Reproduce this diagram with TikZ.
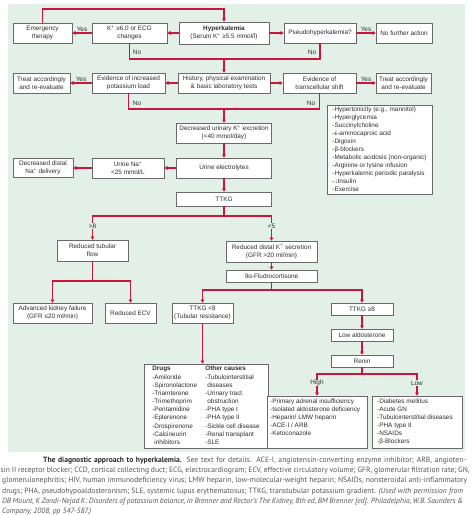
\documentclass[tikz,border=0pt]{standalone}
\usepackage{fontspec}
\setmainfont{Liberation Sans}
\newfontfamily\capfont{PT Sans}
\usetikzlibrary{arrows.meta}
\definecolor{bgg}{RGB}{226,240,232}
\definecolor{redl}{RGB}{200,22,62}
\definecolor{boxd}{RGB}{105,105,105}
\definecolor{txt}{RGB}{45,45,45}
\definecolor{captxt}{RGB}{85,85,85}
\definecolor{capbold}{RGB}{40,40,40}
\begin{document}
\begin{tikzpicture}[x=1pt,y=-1pt,
 box/.style={draw=boxd, line width=0.6pt, fill=white, text=txt, font=\fontsize{6.4}{8}\selectfont, align=center, inner sep=1pt, minimum height=20pt},
 conn/.style={draw=redl, line width=1.1pt},
 arr/.style={conn, -{Triangle[length=3.2pt,width=3.8pt]}},
 lab/.style={text=txt, font=\fontsize{6.4}{8}\selectfont, inner sep=0.5pt},
 onlab/.style={lab, fill=bgg},
 listtxt/.style={text=txt, font=\fontsize{6.4}{8}\selectfont, align=left, inner sep=0pt},
 captext/.style={anchor=base west, inner sep=0pt, text=captxt, font=\capfont\fontsize{7.6}{10}\selectfont}
]
\useasboundingbox (0,0) rectangle (474,515);
\fill[white] (0,0) rectangle (474,515);
\fill[bgg] (8,4) rectangle (465,452);

% row 1
\node[box, minimum width=59pt] (emerg) at (42.5,33) {Emergency\\therapy};
\node[box, minimum width=75pt] (kchk) at (129.5,33) {K\textsuperscript{+} ≥6.0 or ECG\\changes};
\node[box, minimum width=90pt, minimum height=22pt] (hyper) at (224,33) {\textbf{Hyperkalemia}\\(Serum K\textsuperscript{+} ≥5.5 mmol/l)};
\node[box, minimum width=72pt] (pseudo) at (320,33) {Pseudohyperkalemia?};
\node[box, minimum width=56pt] (nofa) at (404,33) {No further action};
% row 2
\node[box, minimum width=57pt] (treatL) at (41.5,83) {Treat accordingly\\and re-evaluate};
\node[box, minimum width=73pt] (evinc) at (128.5,83) {Evidence of increased\\potassium load};
\node[box, minimum width=92pt] (hist) at (224,83) {History, physical examination\\\& basic laboratory tests};
\node[box, minimum width=73pt] (trans) at (319.5,83) {Evidence of\\transcellular shift};
\node[box, minimum width=55pt] (treatR) at (403.5,83) {Treat accordingly\\and re-evaluate};
% list of transcellular causes
\node[box, minimum width=105pt, minimum height=89pt, align=left] (shiftlist) at (379.5,149.5) {-Hypertonicity (e.g., mannitol)\\-Hyperglycemia\\-Succinylcholine\\-ε-aminocaproic acid\\-Digoxin\\-β-blockers\\-Metabolic acidosis (non-organic)\\-Arginine or lysine infusion\\-Hyperkalemic periodic paralysis\\-↓Insulin\\-Exercise};
% middle column
\node[box, minimum width=95pt] (decu) at (224,133) {Decreased urinary K\textsuperscript{+} excretion\\(<40 mmol/day)};
\node[box, minimum width=95pt] (uel) at (224,168) {Urine electrolytes};
\node[box, minimum width=72pt] (una) at (128,168) {Urine Na\textsuperscript{+}\\<25 mmol/L};
\node[box, minimum width=60pt, minimum height=19pt] (ddist) at (43,168) {Decreased distal\\Na\textsuperscript{+} delivery};
\node[box, minimum width=95pt, minimum height=14pt] (ttkg) at (224,199) {TTKG};
\node[box, minimum width=71pt, minimum height=21pt] (rtub) at (92.5,250.5) {Reduced tubular\\flow};
\node[box, minimum width=91pt, minimum height=21pt] (rdist) at (271.5,251.5) {Reduced distal K\textsuperscript{+} secretion\\(GFR >20 ml/min)};
\node[box, minimum width=91pt, minimum height=12pt] (fludro) at (271.5,276) {9α-Fludrocortisone};
\node[box, minimum width=79pt] (akf) at (52.5,313) {Advanced kidney failure\\(GFR ≤20 ml/min)};
\node[box, minimum width=51pt] (recv) at (130.5,313) {Reduced ECV};
\node[box, minimum width=61pt] (tlow) at (202.5,313) {TTKG <8\\(Tubular resistance)};
\node[box, minimum width=62pt, minimum height=12pt] (thigh) at (362,309) {TTKG ≥8};
\node[box, minimum width=62pt, minimum height=12pt] (laldo) at (362,335) {Low aldosterone};
\node[box, minimum width=62pt, minimum height=12pt] (renin) at (362,361) {Renin};
\node[box, minimum width=124pt, minimum height=84pt, font=\fontsize{6.4}{8.15}\selectfont] (drugs) at (206,406) {%
\begin{tabular}{@{}p{53pt}@{}l@{}}
\textbf{Drugs} & \textbf{Other causes}\\
-Amiloride & -Tubulointerstitial\\
-Spironolactone & \hphantom{-}diseases\\
-Triamterene & -Urinary tract\\
-Trimethoprim & \hphantom{-}obstruction\\
-Pentamidine & -PHA type I\\
-Eplerenone & -PHA type II\\
-Drospirenone & -Sickle cell disease\\
-Calcineurin & -Renal transplant\\
\hphantom{-}inhibitors & -SLE
\end{tabular}};
\node[box, minimum width=100pt, minimum height=52pt] (highb) at (317,422) {};
\node[box, minimum width=90pt, minimum height=52pt] (lowb) at (417,422) {};
\node[listtxt, anchor=north west] (hight) at (270,398.5) {-Primary adrenal insufficiency\\-Isolated aldosterone deficiency\\-Heparin/ LMW heparin\\-ACE-I / ARB\\-Ketoconazole};
\node[listtxt, anchor=north west] (lowt) at (377,398.5) {-Diabetes mellitus\\-Acute GN\\-Tubulointerstitial diseases\\-PHA type II\\-NSAIDs\\-β-Blockers};

% connectors row 1
\draw[arr] (hyper.west) -- (kchk.east);
\draw[arr] (kchk.west) -- node[lab, above=0.5pt] (yes1) {Yes} (emerg.east);
\coordinate (t2) at (224,9);
\draw[arr] (emerg.north) |- (t2) -- (hyper.north);
\draw[arr] (hyper.east) -- (pseudo.west);
\draw[arr] (pseudo.east) -- node[lab, above=0.5pt] (yes2) {Yes} (nofa.west);
\coordinate (j1) at (224,59);
\draw[conn] (kchk.south) |- (j1) -| (pseudo.south);
\draw[arr] (j1) -- (hist.north);
\node[lab] (no1) at (137,52) {No};
\node[lab] (no2) at (312,52) {No};
% row 2
\draw[arr] (hist.west) -- (evinc.east);
\draw[arr] (evinc.west) -- node[lab, above=0.5pt] (yes3) {Yes} (treatL.east);
\draw[arr] (hist.east) -- (trans.west);
\draw[arr] (trans.east) -- node[lab, above=0.5pt] (yes4) {Yes} (treatR.west);
\coordinate (j2) at (224,109);
\draw[conn] (evinc.south) |- (j2) -| (trans.south);
\draw[arr] (j2) -- (decu.north);
\node[lab] (no3) at (137,103.5) {No};
\node[lab] (no4) at (311,103.5) {No};
% middle
\draw[arr] (decu.south) -- (uel.north);
\draw[arr] (uel.west) -- (una.east);
\draw[arr] (una.west) -- (ddist.east);
\draw[arr] (uel.south) -- (ttkg.north);
\coordinate (j3) at (224,216);
\draw[conn] (ttkg.south) -- (j3);
\draw[arr] (j3) -| (rtub.north);
\draw[arr] (j3) -| (rdist.north);
\node[onlab] (gt8) at (92.5,226) {>8};
\node[onlab] (lt5) at (271.5,226) {<5};
\draw[arr] (rdist.south) -- (fludro.north);
\coordinate (j4) at (92.5,281);
\draw[conn] (rtub.south) -- (j4);
\draw[arr] (j4) -| (akf.north);
\draw[arr] (j4) -| (recv.north);
\coordinate (j5) at (271.5,290);
\draw[conn] (fludro.south) -- (j5);
\draw[arr] (j5) -| (tlow.north);
\draw[arr] (j5) -| (thigh.north);
\draw[arr] (tlow.south) -- (tlow.south |- drugs.north);
\draw[arr] (thigh.south) -- (laldo.north);
\draw[arr] (laldo.south) -- (renin.north);
\coordinate (j6) at (362,374);
\draw[conn] (renin.south) -- (j6);
\draw[arr] (j6) -| (highb.north);
\draw[arr] (j6) -| (lowb.north);
\node[onlab] (hi) at (317,383) {High};
\node[onlab] (lo) at (417,383) {Low};

% caption
\node[captext] (c1) at (43,462) {\makebox[423pt][s]{\textcolor{capbold}{\textbf{The diagnostic approach to hyperkalemia.}} See text for details. ACE-I, angiotensin-converting enzyme inhibitor; ARB, angioten-}};
\node[captext] (c2) at (0.5,472.4) {\makebox[469pt][s]{sin II receptor blocker; CCD, cortical collecting duct; ECG, electrocardiogram; ECV, effective circulatory volume; GFR, glomerular filtration rate; GN,}};
\node[captext] (c3) at (2,482.8) {\makebox[465pt][s]{glomerulonephritis; HIV, human immunodeficiency virus; LMW heparin, low-molecular-weight heparin; NSAIDs, nonsteroidal anti-inflammatory}};
\node[captext] (c4) at (2,493.2) {\makebox[461pt][s]{drugs; PHA, pseudohypoaldosteronism; SLE, systemic lupus erythematosus; TTKG, transtubular potassium gradient. \textit{(Used with permission from}}};
\node[captext] (c5) at (2,503.6) {\makebox[461pt][s]{\itshape DB Mount, K Zandi-Nejad K: Disorders of potassium balance, in Brenner and Rector’s The Kidney, 8th ed, BM Brenner [ed]. Philadelphia, W.B. Saunders \&}};
\node[captext] (c6) at (2,513.5) {\itshape Company, 2008, pp 547-587.)};
\end{tikzpicture}
\end{document}
